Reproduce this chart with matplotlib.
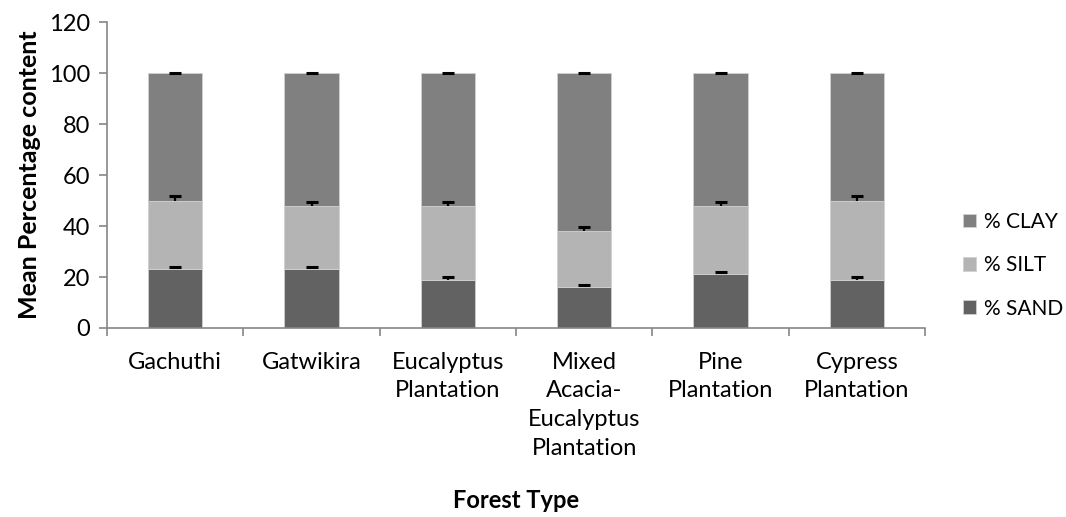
import matplotlib
matplotlib.use("Agg")
import matplotlib.pyplot as plt
import numpy as np

plt.rcParams['font.family'] = ['Lato', 'DejaVu Sans']

forest_types = ['Gachuthi', 'Gatwikira', 'Eucalyptus\nPlantation',
                'Mixed\nAcacia-\nEucalyptus\nPlantation', 'Pine\nPlantation',
                'Cypress\nPlantation']
sand = [23, 23, 19, 16, 21, 19]
silt = [27, 25, 29, 22, 27, 31]
clay = [50, 52, 52, 62, 52, 50]
sand_err = [1, 1, 1, 1, 1, 1]
silt_err = [1.8, 1.5, 1.5, 1.8, 1.5, 1.8]
clay_err = [0.2, 0.2, 0.2, 0.2, 0.2, 0.2]

fig = plt.figure(figsize=(10.66, 5.17), dpi=100)
ax = fig.add_axes([0.1004, 0.3656, 0.7674, 0.5915])

x = np.arange(len(forest_types))
w = 0.4
edge = dict(edgecolor='#d0d0d0', linewidth=0.6)

b1 = ax.bar(x, sand, w, color='#626262', label='% SAND', **edge)
bottom2 = np.array(sand)
b2 = ax.bar(x, silt, w, bottom=bottom2, color='#b4b4b4', label='% SILT', **edge)
bottom3 = bottom2 + np.array(silt)
b3 = ax.bar(x, clay, w, bottom=bottom3, color='#808080', label='% CLAY', **edge)

# upper-only error bars: stem + cap
tops = [bottom2, bottom3, bottom3 + np.array(clay)]
errs = [sand_err, silt_err, clay_err]
for t, e in zip(tops, errs):
    e = np.array(e)
    ax.vlines(x, t, t + e, color='black', linewidth=1.6, zorder=3)
    ax.plot(x, t + e, linestyle='none', marker='_', markersize=9,
            markeredgewidth=2.2, color='black', zorder=3)

ax.set_xlim(-0.5, len(x) - 0.5)
ax.set_ylim(0, 120)
ax.set_yticks(range(0, 121, 20))
ax.set_xticks(x)
ax.set_xticklabels(forest_types, fontsize=17, linespacing=1.45, va='top')
ax.set_xticks(np.arange(-0.5, len(x), 1), minor=True)
ax.tick_params(axis='x', which='major', length=0, pad=17)
ax.tick_params(axis='x', which='minor', length=6, color='#868686', width=1.2)
ax.tick_params(axis='y', labelsize=17, length=6, color='#868686', width=1.2, pad=6)

for s in ['top', 'right']:
    ax.spines[s].set_visible(False)
for s in ['left', 'bottom']:
    ax.spines[s].set_color('#868686')
    ax.spines[s].set_linewidth(1.2)

ax.set_ylabel('Mean Percentage content', fontsize=18, fontweight='bold', labelpad=6)
ax.set_xlabel('Forest Type', fontsize=17, fontweight='bold', labelpad=22)

handles = [b3, b2, b1]
fig.legend(handles, [h.get_label() for h in handles], loc='center left',
           bbox_to_anchor=(0.903, 0.487), bbox_transform=fig.transFigure,
           frameon=False, fontsize=15, borderpad=0, borderaxespad=0,
           handlelength=0.62, handleheight=0.62, handletextpad=0.4,
           labelspacing=1.12)

fig.savefig('out.png', dpi=100)
